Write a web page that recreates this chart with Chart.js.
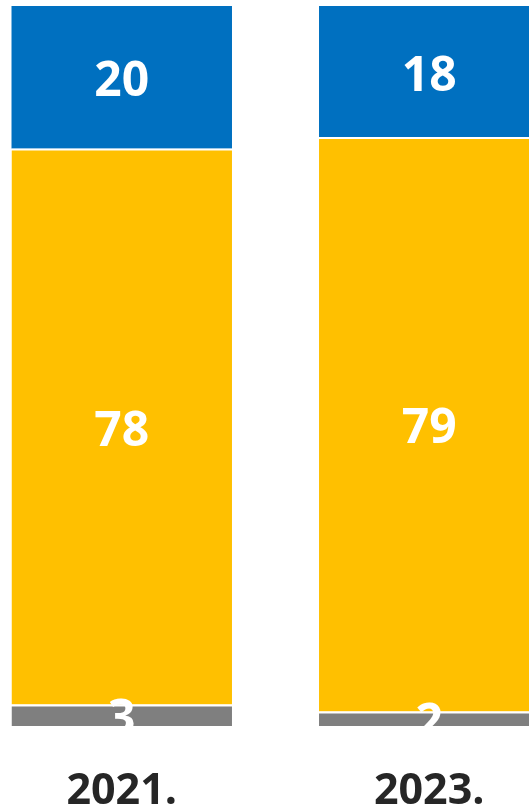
<!DOCTYPE html>
<html>
<head>
<meta charset="utf-8">
<script src="https://cdn.jsdelivr.net/npm/chart.js@4.4.1/dist/chart.umd.min.js"></script>
<style>
  html, body { margin: 0; padding: 0; background: #ffffff; overflow: hidden; }
  body { width: 529px; height: 805px; position: relative; }
  #wrap { position: absolute; left: -32px; top: 0; width: 615px; height: 805px; }
</style>
</head>
<body>
<div id="wrap"><canvas id="chart"></canvas></div>
<script>
// Survey years and the share of answers in each group (percent)
const years = ['2021.', '2023.'];
const topGroup = [20, 18];
const middleGroup = [78, 79];
const bottomGroup = [3, 2];

// Each column is scaled to a full 100% stack
const totals = years.map((_, i) => topGroup[i] + middleGroup[i] + bottomGroup[i]);
const share = arr => arr.map((v, i) => v / totals[i] * 100);

const LABEL_SIZE = 48;

// Writes the stated value in the middle of each segment
const segmentLabels = {
  id: 'segmentLabels',
  afterDatasetsDraw(chart) {
    const { ctx, chartArea } = chart;
    ctx.save();
    ctx.beginPath();
    ctx.rect(chartArea.left, chartArea.top, chartArea.right - chartArea.left, chartArea.bottom - chartArea.top);
    ctx.clip();
    ctx.fillStyle = '#ffffff';
    ctx.font = 'bold ' + LABEL_SIZE + 'px "Open Sans", sans-serif';
    ctx.textAlign = 'center';
    ctx.textBaseline = 'alphabetic';
    chart.data.datasets.forEach((ds, di) => {
      const meta = chart.getDatasetMeta(di);
      meta.data.forEach((bar, i) => {
        const { x, y, base } = bar.getProps(['x', 'y', 'base'], true);
        const mid = (y + base) / 2;
        ctx.fillText(String(ds.rawValues[i]), x, mid + LABEL_SIZE * 0.357 + 2);
      });
    });
    ctx.restore();
  }
};

new Chart(document.getElementById('chart'), {
  type: 'bar',
  data: {
    labels: years,
    datasets: [
      {
        data: share(bottomGroup),
        rawValues: bottomGroup,
        backgroundColor: '#7f7f7f',
        borderColor: '#ffffff',
        borderWidth: { top: 2, right: 0, bottom: 0, left: 0 },
        borderSkipped: false
      },
      {
        data: share(middleGroup),
        rawValues: middleGroup,
        backgroundColor: '#ffc000',
        borderColor: '#ffffff',
        borderWidth: { top: 2, right: 0, bottom: 0, left: 0 },
        borderSkipped: false
      },
      {
        data: share(topGroup),
        rawValues: topGroup,
        backgroundColor: '#0070c0',
        borderWidth: 0
      }
    ]
  },
  options: {
    responsive: true,
    maintainAspectRatio: false,
    animation: false,
    layout: { padding: { top: 6, left: 0, right: 0, bottom: 0 } },
    datasets: { bar: { categoryPercentage: 1, barPercentage: 0.717 } },
    plugins: { legend: { display: false }, tooltip: { enabled: false } },
    scales: {
      x: {
        stacked: true,
        grid: { display: false, drawTicks: false },
        border: { display: false },
        ticks: {
          color: '#262626',
          padding: 40,
          font: { family: '"Open Sans", sans-serif', size: 43, weight: 'bold' }
        },
        afterFit(scale) { scale.height = 79; }
      },
      y: {
        stacked: true,
        display: false,
        min: 0,
        max: 100
      }
    }
  },
  plugins: [segmentLabels]
});
</script>
</body>
</html>
